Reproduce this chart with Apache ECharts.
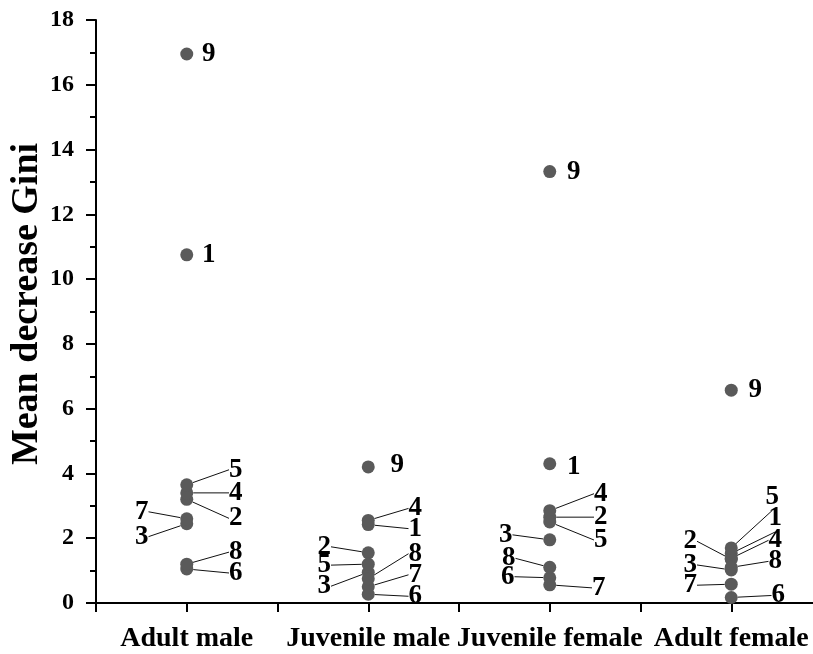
<!DOCTYPE html>
<html>
<head>
<meta charset="utf-8">
<title>Mean decrease Gini</title>
<script src="https://cdn.jsdelivr.net/npm/echarts@6/dist/echarts.min.js"></script>
<style>
  html, body { margin: 0; padding: 0; background: #fff; }
  #chart { width: 813px; height: 654px; }
</style>
</head>
<body>
<div id="chart"></div>
<script>
// Groups shown along the x axis
const categories = ['Adult male', 'Juvenile male', 'Juvenile female', 'Adult female'];
// Variable ids, one point per variable in every group
const variables = ['1', '2', '3', '4', '5', '6', '7', '8', '9'];
// Mean decrease Gini of variables 1..9 for each group
const adultMale      = [10.75, 3.20, 2.45, 3.40, 3.65, 1.05, 2.60, 1.20, 16.95];
const juvenileMale   = [2.42, 1.55, 0.95, 2.55, 1.20, 0.27, 0.50, 0.75, 4.20];
const juvenileFemale = [4.30, 2.65, 1.95, 2.85, 2.50, 0.78, 0.56, 1.10, 13.32];
const adultFemale    = [1.53, 1.35, 1.02, 1.38, 1.70, 0.17, 0.58, 1.10, 6.57];
// y axis ticks and title
const yMin = 0, yMax = 18, yStep = 2;
const yTitle = 'Mean decrease Gini';

const groups = [adultMale, juvenileMale, juvenileFemale, adultFemale];

// Where each variable's label sits relative to its point (pixels)
const labelOffsets = [
  [[22, 0], [49, 19], [-45, 13], [49, 0], [49, -15], [49, 4], [-45, -7], [49, -12], [22, 0]],
  [[47, 4], [-44, -6], [-44, 14], [47, -12], [-44, 1], [47, 2], [47, -12], [47, -25], [29, -2]],
  [[24, 3], [51, 0], [-44, -5], [51, -17], [51, 18], [-42, -1], [49, 3], [-41, -9], [24, 0]],
  [[44, -35], [-41, -18], [-41, -5], [44, -18], [41, -51], [47, -2], [-41, 1], [44, -6], [24, 0]]
];

const serif = '"Liberation Serif", "Times New Roman", "DejaVu Serif", serif';

const series = groups.map(function (vals, gi) {
  return {
    type: 'scatter',
    name: categories[gi],
    symbol: 'circle',
    symbolSize: 13,
    itemStyle: { color: '#5a5a5a', opacity: 1 },
    label: {
      show: true,
      position: 'inside',
      formatter: function (p) { return p.name; },
      color: '#000',
      fontFamily: serif,
      fontWeight: 'bold',
      fontSize: 27
    },
    labelLine: {
      show: true,
      smooth: false,
      length2: 0,
      lineStyle: { color: '#111', width: 1 }
    },
    labelLayout: function (p) {
      const o = labelOffsets[p.seriesIndex][p.dataIndex];
      return { dx: o[0], dy: o[1], hideOverlap: false };
    },
    emphasis: { disabled: true },
    data: vals.map(function (v, i) {
      const item = { name: variables[i], value: [gi + 1, v] };
      if (Math.abs(labelOffsets[gi][i][0]) < 30) {
        item.labelLine = { show: false };
      }
      return item;
    })
  };
});

const chart = echarts.init(document.getElementById('chart'), null, { renderer: 'canvas' });
chart.setOption({
  animation: false,
  backgroundColor: '#fff',
  grid: { left: 96, right: -9, top: 20, bottom: 51, containLabel: false, outerBoundsMode: 'none' },
  // Vertical y axis title, set beside the tick labels
  graphic: [{
    type: 'text',
    x: 27,
    y: 304,
    rotation: Math.PI / 2,
    style: {
      text: yTitle,
      fill: '#000',
      font: 'bold 38px ' + serif,
      textAlign: 'center',
      textVerticalAlign: 'middle'
    }
  }],
  xAxis: {
    type: 'value',
    min: 0.5,
    max: 4.5,
    interval: 0.5,
    axisLine: { show: true, onZero: false, lineStyle: { color: '#000', width: 2 } },
    axisTick: { show: true, inside: false, length: 9, lineStyle: { color: '#000', width: 2 } },
    splitLine: { show: false },
    axisLabel: {
      margin: 22,
      color: '#000',
      fontFamily: serif,
      fontWeight: 'bold',
      fontSize: 28,
      formatter: function (v) {
        return Math.abs(v - Math.round(v)) < 1e-6 && v >= 1 && v <= 4 ? categories[Math.round(v) - 1] : '';
      }
    }
  },
  yAxis: {
    type: 'value',
    min: yMin,
    max: yMax,
    interval: yStep,
    axisLine: { show: true, lineStyle: { color: '#000', width: 2 } },
    axisTick: { show: true, inside: false, length: 10, lineStyle: { color: '#000', width: 2 } },
    minorTick: { show: true, splitNumber: 2, length: 6, lineStyle: { color: '#000', width: 2 } },
    splitLine: { show: false },
    minorSplitLine: { show: false },
    axisLabel: { margin: 22, color: '#000', fontFamily: serif, fontWeight: 'bold', fontSize: 24 }
  },
  series: series
});
</script>
</body>
</html>
